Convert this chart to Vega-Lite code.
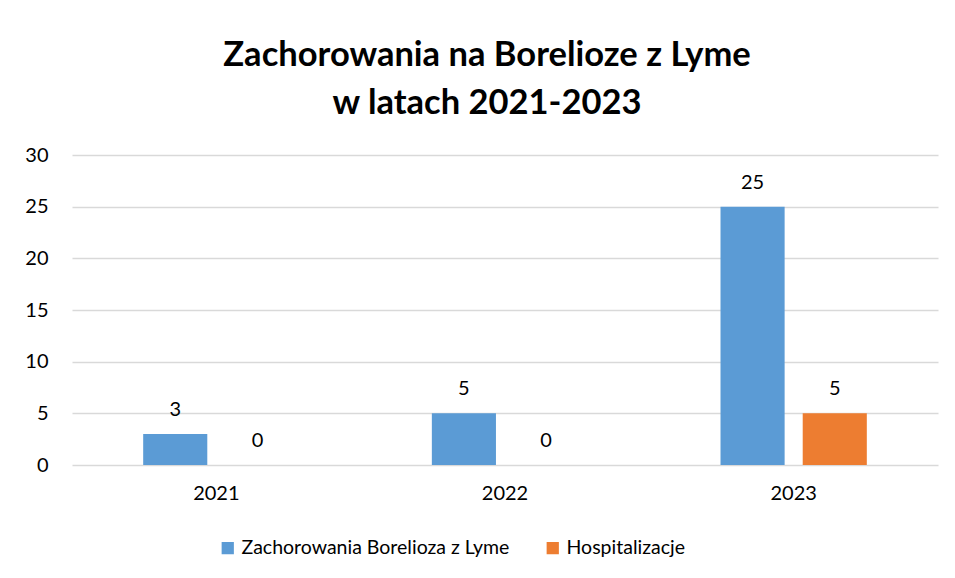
{
  "$schema": "https://vega.github.io/schema/vega-lite/v6.json",
  "autosize": {"type": "none"},
  "width": 866,
  "height": 310,
  "padding": {"left": 72, "top": 155, "right": 17, "bottom": 113},
  "background": "white",
  "title": {
    "text": ["Zachorowania na Borelioze z Lyme", "w latach 2021-2023"],
    "fontSize": 34.5,
    "font": "Lato",
    "fontWeight": "bold",
    "color": "#000000",
    "lineHeight": 48,
    "anchor": "middle",
    "frame": "group",
    "dx": -18,
    "offset": 24
  },
  "config": {
    "font": "Lato",
    "view": {"stroke": null},
    "axis": {"labelFont": "Lato", "labelFontSize": 20, "labelColor": "#000000"}
  },
  "data": {
    "values": [
      {"rok": "2021", "seria": "Zachorowania Borelioza z Lyme", "wartosc": 3},
      {"rok": "2021", "seria": "Hospitalizacje", "wartosc": 0},
      {"rok": "2022", "seria": "Zachorowania Borelioza z Lyme", "wartosc": 5},
      {"rok": "2022", "seria": "Hospitalizacje", "wartosc": 0},
      {"rok": "2023", "seria": "Zachorowania Borelioza z Lyme", "wartosc": 25},
      {"rok": "2023", "seria": "Hospitalizacje", "wartosc": 5}
    ]
  },
  "encoding": {
    "x": {
      "field": "rok",
      "type": "nominal",
      "scale": {"paddingInner": 0, "paddingOuter": 0},
      "axis": {"title": null, "labelAngle": 0, "domain": false, "ticks": false, "labelPadding": 18}
    },
    "xOffset": {
      "field": "seria",
      "type": "nominal",
      "sort": ["Zachorowania Borelioza z Lyme", "Hospitalizacje"],
      "scale": {"paddingInner": 0.22, "paddingOuter": 0.866}
    },
    "y": {
      "field": "wartosc",
      "type": "quantitative",
      "scale": {"domain": [0, 30]},
      "axis": {
        "title": null,
        "values": [0, 5, 10, 15, 20, 25, 30],
        "domain": false,
        "ticks": false,
        "labelPadding": 24,
        "gridColor": "#D9D9D9",
        "gridWidth": 1.5
      }
    }
  },
  "layer": [
    {
      "mark": {"type": "bar"},
      "encoding": {
        "color": {
          "field": "seria",
          "type": "nominal",
          "sort": ["Zachorowania Borelioza z Lyme", "Hospitalizacje"],
          "scale": {"domain": ["Zachorowania Borelioza z Lyme", "Hospitalizacje"], "range": ["#5B9BD5", "#ED7D31"]},
          "legend": {
            "title": null,
            "orient": "none",
            "direction": "horizontal",
            "legendX": 146,
            "legendY": 383,
            "symbolType": "square",
            "symbolSize": 150,
            "symbolStrokeWidth": 0,
            "symbolOpacity": 1,
            "labelFontSize": 19.5,
            "labelFont": "Lato",
            "labelColor": "#000000",
            "labelOffset": 4,
            "columnPadding": 33,
            "labelLimit": 400
          }
        }
      }
    },
    {
      "mark": {"type": "text", "baseline": "alphabetic", "dy": -18, "fontSize": 20, "color": "#000000", "font": "Lato"},
      "encoding": {"text": {"field": "wartosc", "type": "quantitative"}}
    }
  ]
}
